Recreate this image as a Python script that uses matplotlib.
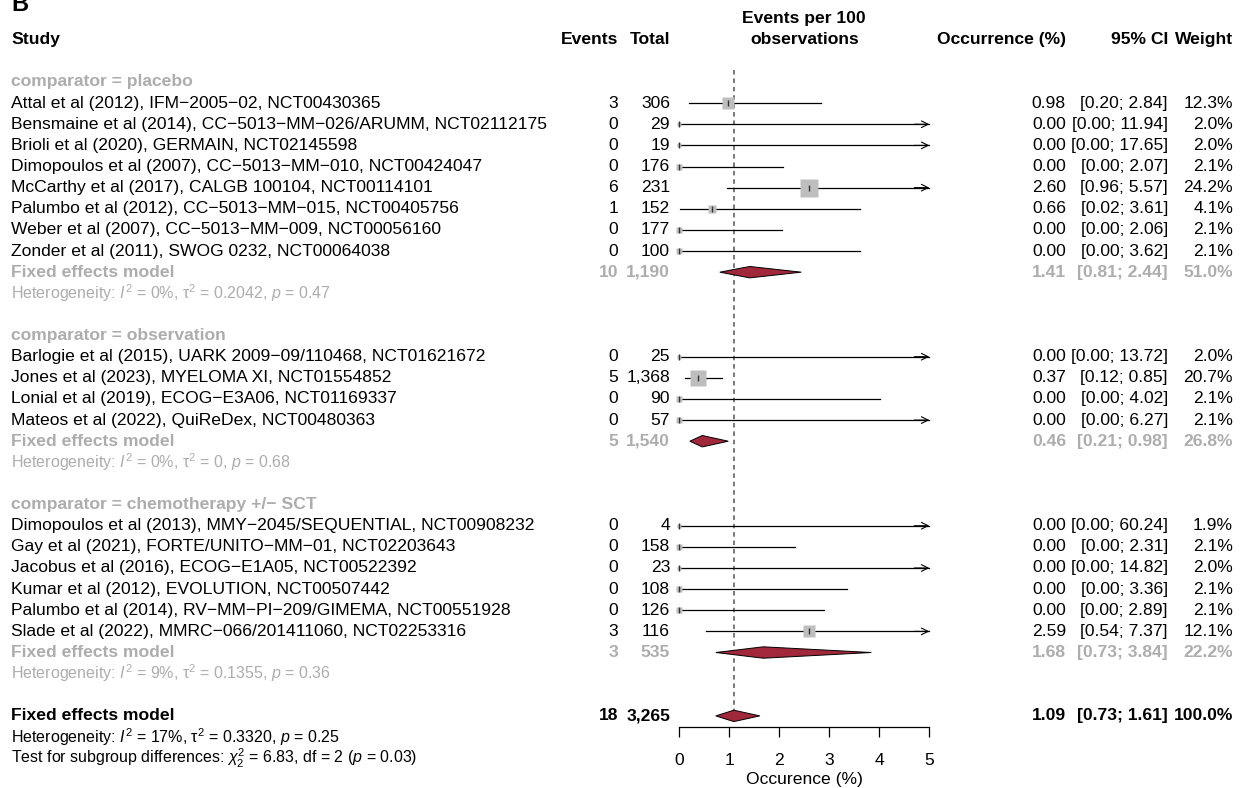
import numpy as np
import matplotlib
matplotlib.use('Agg')
import matplotlib.pyplot as plt
from matplotlib.patches import Polygon

plt.rcParams['font.family'] = ['Liberation Sans', 'DejaVu Sans']
plt.rcParams['mathtext.fontset'] = 'custom'
plt.rcParams['mathtext.rm'] = 'Liberation Sans'
plt.rcParams['mathtext.it'] = 'Liberation Sans:italic'
plt.rcParams['mathtext.bf'] = 'Liberation Sans:bold'

# --- data -----------------------------------------------------------------
group_labels = ['comparator = placebo', 'comparator = observation',
                'comparator = chemotherapy +/\u2212 SCT']

studies = [
    'Attal et al (2012), IFM\u22122005\u221202, NCT00430365',
    'Bensmaine et al (2014), CC\u22125013\u2212MM\u2212026/ARUMM, NCT02112175',
    'Brioli et al (2020), GERMAIN, NCT02145598',
    'Dimopoulos et al (2007), CC\u22125013\u2212MM\u2212010, NCT00424047',
    'McCarthy et al (2017), CALGB 100104, NCT00114101',
    'Palumbo et al (2012), CC\u22125013\u2212MM\u2212015, NCT00405756',
    'Weber et al (2007), CC\u22125013\u2212MM\u2212009, NCT00056160',
    'Zonder et al (2011), SWOG 0232, NCT00064038',
    'Barlogie et al (2015), UARK 2009\u221209/110468, NCT01621672',
    'Jones et al (2023), MYELOMA XI, NCT01554852',
    'Lonial et al (2019), ECOG\u2212E3A06, NCT01169337',
    'Mateos et al (2022), QuiReDex, NCT00480363',
    'Dimopoulos et al (2013), MMY\u22122045/SEQUENTIAL, NCT00908232',
    'Gay et al (2021), FORTE/UNITO\u2212MM\u221201, NCT02203643',
    'Jacobus et al (2016), ECOG\u2212E1A05, NCT00522392',
    'Kumar et al (2012), EVOLUTION, NCT00507442',
    'Palumbo et al (2014), RV\u2212MM\u2212PI\u2212209/GIMEMA, NCT00551928',
    'Slade et al (2022), MMRC\u2212066/201411060, NCT02253316',
]
study_group = [0] * 8 + [1] * 4 + [2] * 6
events = [3, 0, 0, 0, 6, 1, 0, 0, 0, 5, 0, 0, 0, 0, 0, 0, 0, 3]
totals = [306, 29, 19, 176, 231, 152, 177, 100, 25, 1368, 90, 57,
          4, 158, 23, 108, 126, 116]
occ = [0.98, 0.00, 0.00, 0.00, 2.60, 0.66, 0.00, 0.00, 0.00, 0.37, 0.00, 0.00,
       0.00, 0.00, 0.00, 0.00, 0.00, 2.59]
ci_lo = [0.20, 0.00, 0.00, 0.00, 0.96, 0.02, 0.00, 0.00, 0.00, 0.12, 0.00, 0.00,
         0.00, 0.00, 0.00, 0.00, 0.00, 0.54]
ci_hi = [2.84, 11.94, 17.65, 2.07, 5.57, 3.61, 2.06, 3.62, 13.72, 0.85, 4.02, 6.27,
         60.24, 2.31, 14.82, 3.36, 2.89, 7.37]
weight = [12.3, 2.0, 2.0, 2.1, 24.2, 4.1, 2.1, 2.1, 2.0, 20.7, 2.1, 2.1,
          1.9, 2.1, 2.0, 2.1, 2.1, 12.1]

sub_events = [10, 5, 3]
sub_totals = [1190, 1540, 535]
sub_occ = [1.41, 0.46, 1.68]
sub_lo = [0.81, 0.21, 0.73]
sub_hi = [2.44, 0.98, 3.84]
sub_weight = [51.0, 26.8, 22.2]
sub_i2 = ['0%', '0%', '9%']
sub_tau2 = ['0.2042', '0', '0.1355']
sub_p = ['0.47', '0.68', '0.36']

all_events = 18
all_total = 3265
all_occ = 1.09
all_lo = 0.73
all_hi = 1.61
all_i2 = '17%'
all_tau2 = '0.3320'
all_p = '0.25'
test_chi2 = '6.83'
test_df = '2'
test_p = '0.03'

x_ticks = [0, 1, 2, 3, 4, 5]

# --- layout ---------------------------------------------------------------
W, H = 1251, 788
ROW0 = 82.0
ROW_H = 21.13
FS = 12.6
FS_HET = 11.5
GREY = '#ADADAD'
SQ_COL = '#BEBEBE'
DIA_COL = '#A1283A'
X_MAX = 5


def row_of(px):
    return (px - ROW0) / ROW_H


def px_x(v):
    return 679.3 + 50.0 * v


X_STUDY, X_EV, X_TOT, X_OCC, X_CI, X_W = 11, 618, 670, 1066, 1168, 1233

fig = plt.figure(figsize=(W / 100, H / 100), dpi=100)
ax_t = fig.add_axes([0, 0, 1, 1])
ax_t.set_xlim(0, W)
ax_t.set_ylim(row_of(H), row_of(0))
ax_t.axis('off')

ax_f = fig.add_axes([px_x(0) / W, 0, (px_x(X_MAX) - px_x(0)) / W, 1])
ax_f.set_xlim(0, X_MAX)
ax_f.set_ylim(row_of(H), row_of(0))
ax_f.patch.set_visible(False)
for s in ['top', 'left', 'right']:
    ax_f.spines[s].set_visible(False)
ax_f.spines['bottom'].set_position(('data', row_of(726.7)))
ax_f.spines['bottom'].set_linewidth(0.9)
ax_f.set_yticks([])
ax_f.set_xticks(x_ticks)
ax_f.tick_params(axis='x', direction='out', length=7.2, width=0.9,
                 labelsize=FS, pad=12)
ax_f.text(2.5, row_of(780), 'Occurence (%)', ha='center', va='center', fontsize=FS)


def txt(x, y, s, ha='left', bold=False, color='black', size=FS):
    ax_t.text(x, y, s, ha=ha, va='center', fontsize=size, color=color,
              fontweight='bold' if bold else 'normal')


def ci_str(lo, hi):
    return f'[{lo:.2f}; {hi:.2f}]'


def diamond(y, est, lo, hi):
    h = 0.27
    ax_f.add_patch(Polygon([(lo, y), (est, y - h), (hi, y), (est, y + h)],
                           closed=True, facecolor=DIA_COL, edgecolor='black',
                           lw=0.7, zorder=4, clip_on=False))


# headers
ax_t.text(X_STUDY, row_of(11), 'B', ha='left', va='baseline', fontsize=17,
          fontweight='bold')
txt(X_STUDY, -2, 'Study', bold=True)
txt(X_EV, -2, 'Events', ha='right', bold=True)
txt(X_TOT, -2, 'Total', ha='right', bold=True)
ax_f.text(2.5, -3, 'Events per 100', ha='center', va='center', fontsize=FS,
          fontweight='bold')
ax_f.text(2.5, -2, 'observations', ha='center', va='center', fontsize=FS,
          fontweight='bold')
txt(X_OCC, -2, 'Occurrence (%)', ha='right', bold=True)
txt(X_CI, -2, '95% CI', ha='right', bold=True)
txt(X_W, -2, 'Weight', ha='right', bold=True)

# reference line
ax_f.plot([all_occ, all_occ], [row_of(70), 30.25], ls=(0, (3, 2.5)),
          color='#555555', lw=1.1, zorder=1, clip_on=False)

row = 0
for g, glabel in enumerate(group_labels):
    txt(X_STUDY, row, glabel, bold=True, color=GREY)
    row += 1
    for i in [k for k, sg in enumerate(study_group) if sg == g]:
        txt(X_STUDY, row, studies[i])
        txt(X_EV, row, f'{events[i]}', ha='right')
        txt(X_TOT, row, f'{totals[i]:,}', ha='right')
        txt(X_OCC, row, f'{occ[i]:.2f}', ha='right')
        txt(X_CI, row, ci_str(ci_lo[i], ci_hi[i]), ha='right')
        txt(X_W, row, f'{weight[i]:.1f}%', ha='right')
        hi = min(ci_hi[i], X_MAX)
        ax_f.plot([ci_lo[i], hi], [row, row], color='black', lw=0.9,
                  zorder=2, clip_on=False)
        if ci_hi[i] > X_MAX:
            ax_f.annotate('', xy=(X_MAX, row), xytext=(X_MAX - 0.3, row),
                          arrowprops=dict(arrowstyle='->', lw=0.8, color='black',
                                          shrinkA=0, shrinkB=0, mutation_scale=12),
                          annotation_clip=False)
        side = 3.5 * np.sqrt(weight[i]) * 0.72
        ax_f.plot(occ[i], row, marker='s', ms=side, color=SQ_COL, mec='none',
                  zorder=3, clip_on=False)
        ax_f.plot(occ[i], row, marker='|', ms=4.5, color='#333333', mew=1.0,
                  zorder=4, clip_on=False)
        row += 1
    txt(X_STUDY, row, 'Fixed effects model', bold=True, color=GREY)
    txt(X_EV, row, f'{sub_events[g]}', ha='right', bold=True, color=GREY)
    txt(X_TOT, row, f'{sub_totals[g]:,}', ha='right', bold=True, color=GREY)
    txt(X_OCC, row, f'{sub_occ[g]:.2f}', ha='right', bold=True, color=GREY)
    txt(X_CI, row, ci_str(sub_lo[g], sub_hi[g]), ha='right', bold=True, color=GREY)
    txt(X_W, row, f'{sub_weight[g]:.1f}%', ha='right', bold=True, color=GREY)
    diamond(row, sub_occ[g], sub_lo[g], sub_hi[g])
    row += 1
    txt(X_STUDY, row, f'Heterogeneity: $I^2$ = {sub_i2[g]}, \u03c4$^2$ = {sub_tau2[g]}, '
                      f'$p$ = {sub_p[g]}', color=GREY, size=FS_HET)
    row += 2

# overall
txt(X_STUDY, row, 'Fixed effects model', bold=True)
txt(X_EV, row, f'{all_events}', ha='right', bold=True)
txt(X_TOT, row, f'{all_total:,}', ha='right', bold=True)
txt(X_OCC, row, f'{all_occ:.2f}', ha='right', bold=True)
txt(X_CI, row, ci_str(all_lo, all_hi), ha='right', bold=True)
txt(X_W, row, '100.0%', ha='right', bold=True)
diamond(row, all_occ, all_lo, all_hi)
row += 1
txt(X_STUDY, row, f'Heterogeneity: $I^2$ = {all_i2}, \u03c4$^2$ = {all_tau2}, '
                  f'$p$ = {all_p}', size=FS_HET)
row += 1
txt(X_STUDY, row, f'Test for subgroup differences: $\\chi^2_{{{test_df}}}$ = {test_chi2}, '
                  f'df = {test_df} ($p$ = {test_p})', size=FS_HET)

fig.savefig('out.png', dpi=100)
